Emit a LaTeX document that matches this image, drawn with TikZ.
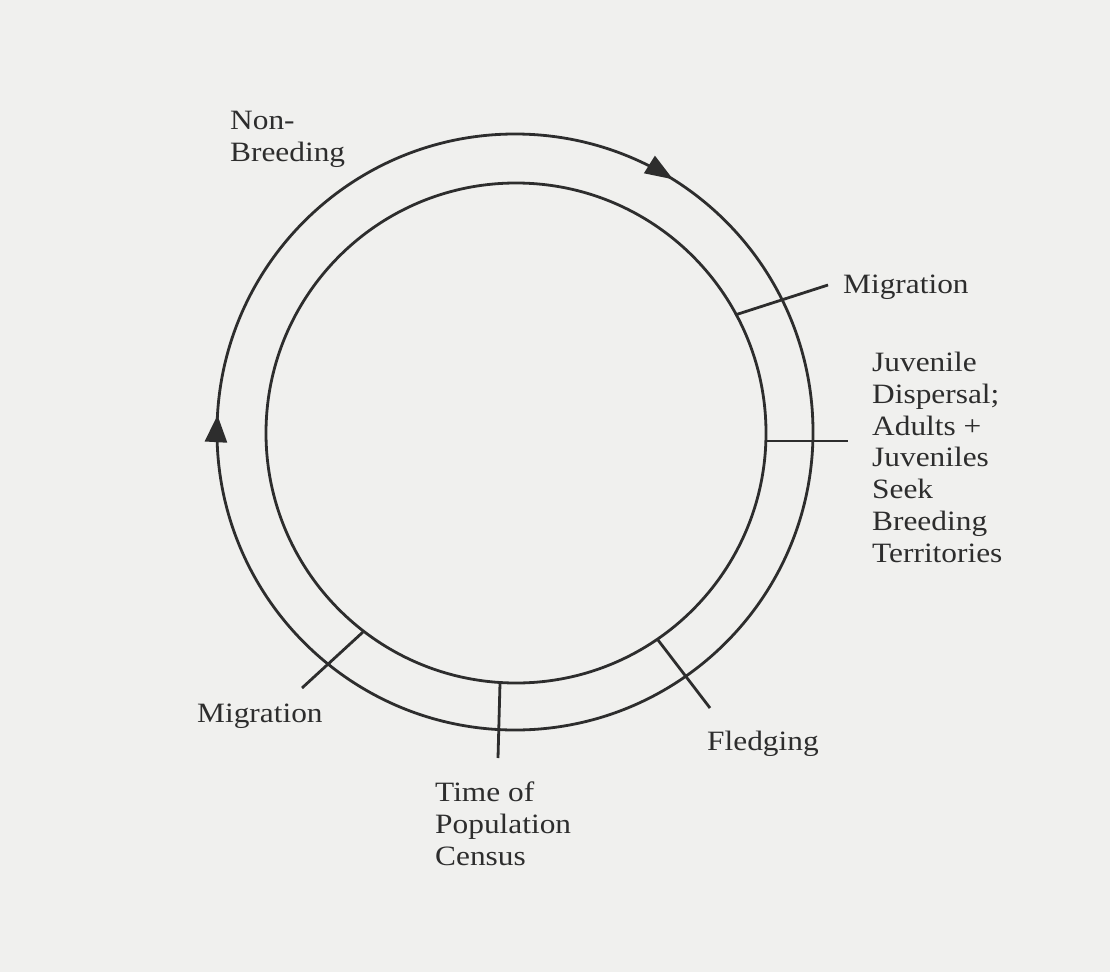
\documentclass[tikz,border=0pt]{standalone}
\usepackage{fontspec}
\setmainfont{Liberation Serif}[FakeStretch=1.12]
\usetikzlibrary{decorations.markings,arrows.meta}
\definecolor{paper}{RGB}{240,240,238}
\definecolor{ink}{RGB}{45,45,45}
\tikzset{
  ring/.style={draw=ink,line width=2.8pt},
  tick/.style={draw=ink,line width=2.8pt},
  lbl/.style={inner sep=0pt,anchor=base west,align=left,text=ink,font=\fontsize{28}{31.7}\selectfont}
}
\begin{document}
\begin{tikzpicture}[x=1pt,y=-1pt]
\fill[paper] (0,0) rectangle (1110,972);
\useasboundingbox (0,0) rectangle (1110,972);
\coordinate (C) at (515,432);
\coordinate (Ci) at (516,433);
% outer circle with arrows
\draw[ring,postaction={decorate},decoration={markings,
  mark=at position 0.509 with {\arrow{Triangle[length=27pt,width=22pt]}},
  mark=at position 0.839 with {\arrow{Triangle[length=28pt,width=20pt]}}}]
  (C) circle[radius=298];
% inner circle
\draw[ring] (Ci) circle[radius=250];
% tick coordinates
\coordinate (m1a) at (735,315); \coordinate (m1b) at (828,285);
\coordinate (jva) at (766,441); \coordinate (jvb) at (848,441);
\coordinate (fla) at (658,640); \coordinate (flb) at (710,708);
\coordinate (cea) at (500,683); \coordinate (ceb) at (498,758);
\coordinate (m2a) at (363,632); \coordinate (m2b) at (302,688);
\draw[tick] (m1a) -- (m1b);
\draw[tick] (jva) -- (jvb);
\draw[tick] (fla) -- (flb);
\draw[tick] (cea) -- (ceb);
\draw[tick] (m2a) -- (m2b);
% labels (base anchor = baseline of last line)
\node[lbl] (nb) at (230,161) {Non-\\Breeding};
\node[lbl] (mig1) at (843,293) {Migration};
\node[lbl] (juv) at (872,562) {Juvenile\\Dispersal;\\Adults +\\Juveniles\\Seek\\Breeding\\Territories};
\node[lbl] (fled) at (707,750) {Fledging};
\node[lbl] (cens) at (435,865) {Time of\\Population\\Census};
\node[lbl] (mig2) at (197,722) {Migration};
\end{tikzpicture}
\end{document}
